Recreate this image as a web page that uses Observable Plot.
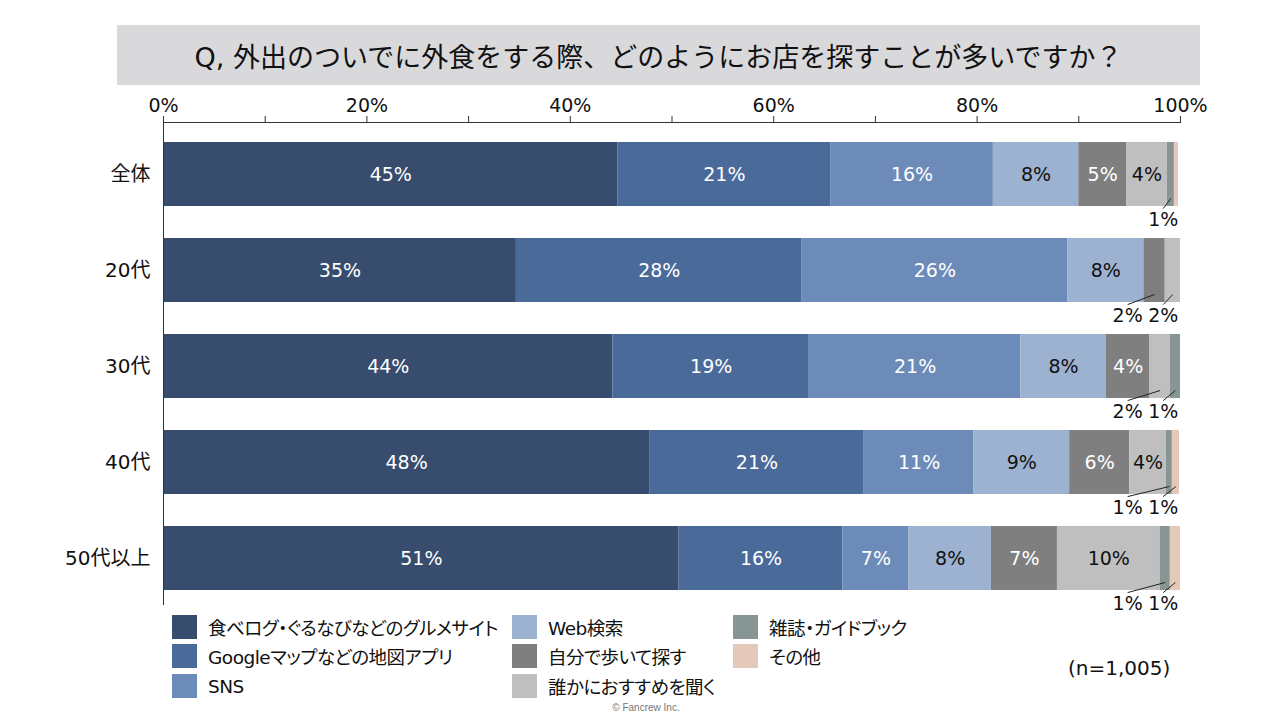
<!DOCTYPE html>
<html>
<head>
<meta charset="utf-8">
<script src="https://cdn.jsdelivr.net/npm/d3@7"></script>
<script src="https://cdn.jsdelivr.net/npm/@observablehq/plot@0.6"></script>
<style>
  body { margin: 0; background: #fff; }
  #wrap { position: relative; width: 1280px; height: 720px; overflow: hidden; background: #fff;
          font-family: "DejaVu Sans", "Noto Sans CJK JP", sans-serif; color: #111; }
  #chart { position: absolute; left: 0; top: 0; }
  #title { position: absolute; left: 117px; top: 25px; width: 1083px; height: 60px; background: #D9D9DC;
           display: flex; align-items: center; justify-content: center; font-size: 27px;
           font-family: "DejaVu Sans", "Noto Sans CJK JP", sans-serif; }
  .lg { position: absolute; display: flex; align-items: center; font-size: 18.5px; height: 26px; white-space: nowrap;
        letter-spacing: -0.5px;
        font-family: "DejaVu Sans", "Noto Sans CJK JP", sans-serif; font-feature-settings: "palt"; }
  .lg .sw { width: 25px; height: 24px; margin-right: 11px; flex: none; }
  #n { position: absolute; left: 1068px; top: 656px; font-size: 20px; }
  #copy { position: absolute; left: 0; width: 1292px; text-align: center; top: 702px; font-size: 10px; color: #777;
          font-family: "Liberation Sans", sans-serif; }
</style>
</head>
<body>
<div id="wrap">
  <div id="chart"></div>
  <div id="title">Q, 外出のついでに外食をする際、どのようにお店を探すことが多いですか？</div>
  <div id="legend"></div>
  <div id="n">(n=1,005)</div>
  <div id="copy">© Fancrew Inc.</div>
</div>
<script>
const categories = ["全体", "20代", "30代", "40代", "50代以上"];
const seriesNames = ["食べログ・ぐるなびなどのグルメサイト", "Googleマップなどの地図アプリ", "SNS", "Web検索",
                     "自分で歩いて探す", "誰かにおすすめを聞く", "雑誌・ガイドブック", "その他"];
const seriesColors = ["#384D6E", "#4A6A9A", "#6C8BB9", "#9DB1D0", "#7F7F7F", "#BFBFBF", "#879694", "#E4C9BB"];
const gourmet   = [44.7, 34.7, 44.2, 47.8, 50.7];
const mapApp    = [20.9, 28.1, 19.3, 21.1, 16.1];
const sns       = [16.0, 26.1, 20.8, 10.8, 6.5];
const web       = [8.4, 7.5, 8.4, 9.4, 8.1];
const walk      = [4.7, 2.1, 4.3, 5.9, 6.5];
const recommend = [4.0, 1.5, 2.0, 3.6, 10.1];
const magazine  = [0.7, 0, 1.0, 0.6, 1.0];
const other     = [0.4, 0, 0, 0.7, 1.0];
const xTicks = [0, 10, 20, 30, 40, 50, 60, 70, 80, 90, 100];

const seriesValues = [gourmet, mapApp, sns, web, walk, recommend, magazine, other];
const darkText = new Set([0, 1, 2, 4]);

// build stacked table
const table = [];
categories.forEach((cat, i) => {
  let acc = 0;
  seriesNames.forEach((s, j) => {
    const v = seriesValues[j][i];
    if (v > 0) table.push({ i, cat, series: s, j, value: v, x1: acc, x2: acc + v });
    acc += v;
  });
});
const inside = table.filter(d => d.value >= 3);
// outside labels: small segments with rounded value >= 1
const outside = [];
const outsideX = [94.8, 98.3];
categories.forEach((cat, i) => {
  const small = table.filter(d => d.i === i && d.value < 3 && Math.round(d.value) >= 1);
  small.forEach((d, k) => {
    const lx = outsideX[outsideX.length - small.length + k];
    outside.push({ ...d, lx, mid: (d.x1 + d.x2) / 2 });
  });
});

const yTop = -0.5417, yBottom = 4.4896;
const half = 1 / 3;

const plot = Plot.plot({
  width: 1280,
  height: 720,
  marginTop: 122,
  marginBottom: 115,
  marginLeft: 163,
  marginRight: 100,
  style: { fontFamily: "'DejaVu Sans','Noto Sans CJK JP',sans-serif", fontSize: "19px", color: "#111", background: "transparent" },
  x: { domain: [0, 100] },
  y: { domain: [yTop, yBottom], reverse: true },
  color: { domain: seriesNames, range: seriesColors },
  marks: [
    Plot.rect(table, { x1: "x1", x2: "x2", y1: d => d.i - half, y2: d => d.i + half, fill: "series" }),
    Plot.text(inside.filter(d => darkText.has(d.j)), {
      x: d => (d.x1 + d.x2) / 2, y: "i", text: d => Math.round(d.value) + "%", fill: "white", fontSize: 19
    }),
    Plot.text(inside.filter(d => !darkText.has(d.j)), {
      x: d => (d.x1 + d.x2) / 2, y: "i", text: d => Math.round(d.value) + "%", fill: "#111", fontSize: 19
    }),
    Plot.link(outside, {
      x1: "mid", y1: d => d.i + 0.25, x2: "lx", y2: d => d.i + 0.355, stroke: "#222", strokeWidth: 1
    }),
    Plot.text(outside, {
      x: "lx", y: d => d.i + 0.47, text: d => Math.round(d.value) + "%", fill: "#111", fontSize: 19
    }),
    Plot.ruleY([yTop], { x1: 0, x2: 100, stroke: "#333" }),
    Plot.ruleX([0], { y1: yTop, y2: yBottom, stroke: "#333" }),
    Plot.axisX({
      anchor: "top", ticks: xTicks, tickFormat: d => d % 20 === 0 ? d + "%" : "",
      tickSize: 7, tickPadding: 4, fontSize: 19, label: null, stroke: "#333"
    }),
    Plot.axisY({
      ticks: [0, 1, 2, 3, 4], tickFormat: i => categories[i], tickSize: 0, tickPadding: 13,
      fontSize: 20, label: null
    })
  ]
});
document.getElementById("chart").appendChild(plot);

// legend
const legendPos = [
  [172, 614], [172, 643], [172, 673],
  [512, 614], [512, 643], [512, 673],
  [733, 614], [733, 643]
];
const legend = document.getElementById("legend");
seriesNames.forEach((s, j) => {
  const el = document.createElement("div");
  el.className = "lg";
  el.style.left = legendPos[j][0] + "px";
  el.style.top = legendPos[j][1] + "px";
  el.innerHTML = `<span class="sw" style="background:${seriesColors[j]}"></span><span>${s}</span>`;
  legend.appendChild(el);
});
</script>
</body>
</html>
